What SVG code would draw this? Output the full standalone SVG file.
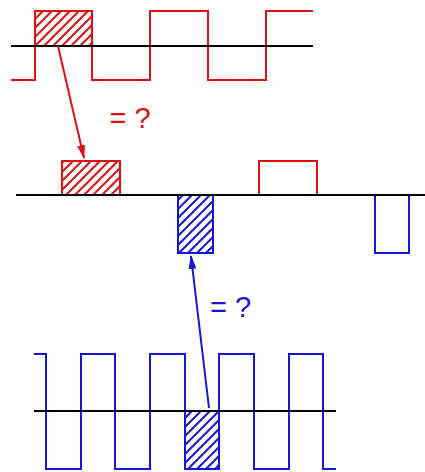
<svg xmlns="http://www.w3.org/2000/svg" width="425" height="472" viewBox="0 0 425 472">
<defs>
<style>
.r{stroke:#dd1111;fill:none;stroke-width:2}
.b{stroke:#1515d8;fill:none;stroke-width:2}
.ax{stroke:#000;stroke-width:2;fill:none}
.rh{stroke:#dd1111;stroke-width:2;fill:url(#hr)}
.bh{stroke:#1515d8;stroke-width:2;fill:url(#hb)}
.t{font-family:"Liberation Sans",Arial,sans-serif;font-size:29px}
</style>
<pattern id="hr" patternUnits="userSpaceOnUse" width="9" height="9">
<path d="M-2,11 L11,-2 M-2,2 L2,-2 M7,11 L11,7" stroke="#dd1111" stroke-width="2"/>
</pattern>
<pattern id="hb" patternUnits="userSpaceOnUse" width="9" height="9">
<path d="M-2,11 L11,-2 M-2,2 L2,-2 M7,11 L11,7" stroke="#1515d8" stroke-width="2"/>
</pattern>
<marker id="ar" markerWidth="14" markerHeight="8" refX="13" refY="4" orient="auto" markerUnits="userSpaceOnUse">
<path d="M0,0 L14,4 L0,8 Z" fill="#dd1111"/>
</marker>
<marker id="ab" markerWidth="14" markerHeight="8" refX="13" refY="4" orient="auto" markerUnits="userSpaceOnUse">
<path d="M0,0 L14,4 L0,8 Z" fill="#1515d8"/>
</marker>
</defs>
<g id="top-signal">
<rect class="rh" x="35" y="11" width="57" height="35"/>
<path class="r" d="M11,80 H35 V11 H92 V80 H150 V11 H208 V80 H266 V11 H313"/>
<line class="ax" x1="11" y1="46" x2="313" y2="46"/>
</g>
<g id="middle-product">
<rect class="rh" x="62" y="161" width="58" height="34"/>
<rect class="r" x="259" y="161" width="58" height="34"/>
<rect class="bh" x="178" y="195" width="35" height="58"/>
<rect class="b" x="375" y="195" width="34" height="58"/>
<line class="ax" x1="16" y1="195" x2="425" y2="195"/>
</g>
<g id="bottom-signal">
<rect class="bh" x="185" y="411" width="34" height="58"/>
<path class="b" d="M34,354 H46 V469 H81 V354 H115 V469 H150 V354 H185 V469 H219 V354 H254 V469 H289 V354 H323 V469 H336"/>
<line class="ax" x1="34" y1="411" x2="336" y2="411"/>
</g>
<g id="connectors">
<line x1="58" y1="46" x2="84" y2="158" stroke="#dd1111" stroke-width="2" marker-end="url(#ar)"/>
<line x1="209" y1="408" x2="191" y2="256" stroke="#1515d8" stroke-width="2" marker-end="url(#ab)"/>
</g>
<g id="labels">
<text class="t" x="109.5" y="128" fill="#dd1111">= ?</text>
<text class="t" x="210" y="317" fill="#1515d8">= ?</text>
</g>
</svg>
